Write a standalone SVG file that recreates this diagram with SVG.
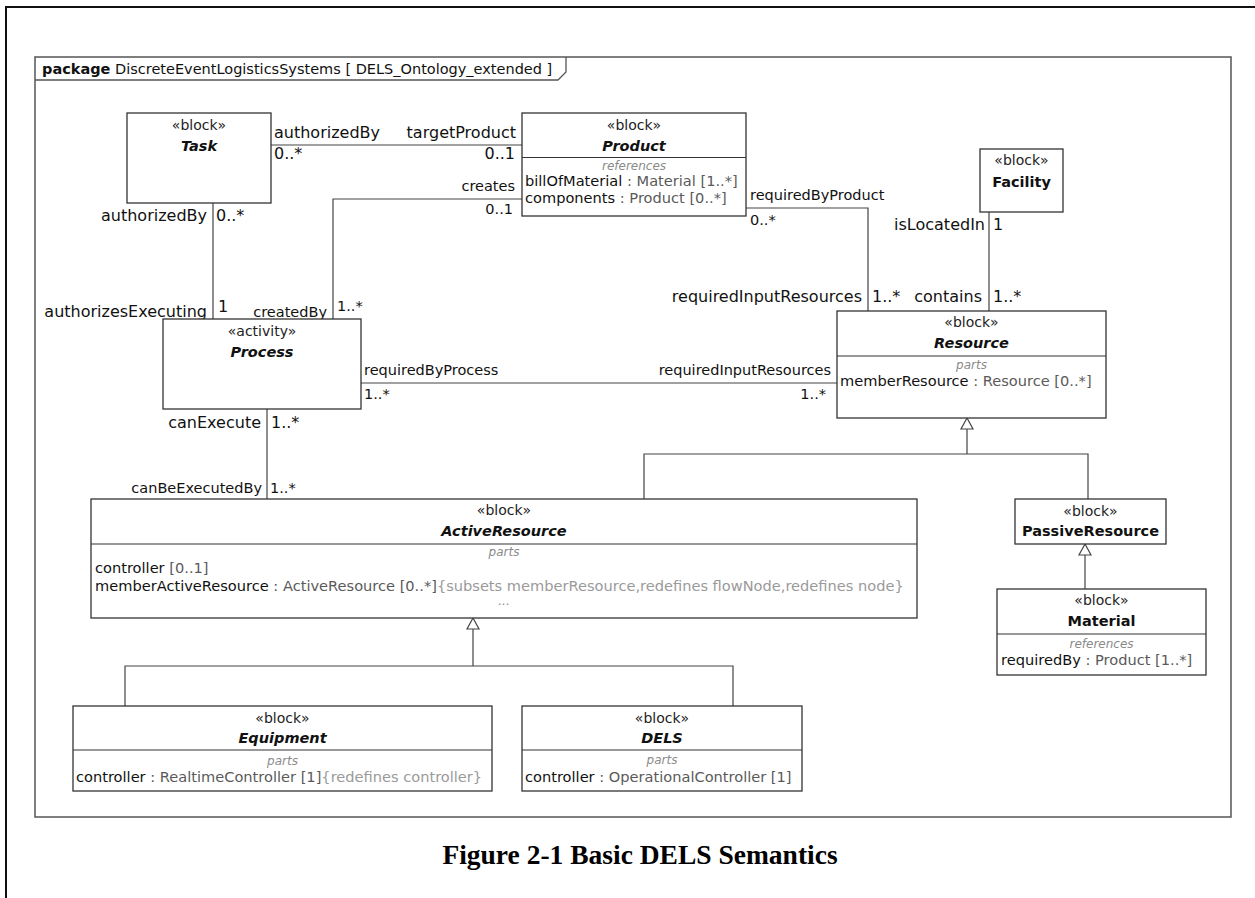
<svg xmlns="http://www.w3.org/2000/svg" width="1255" height="898" viewBox="0 0 1255 898">
<style>
.box{fill:#fff;stroke:#333;stroke-width:1.3}
.dv{stroke:#333;stroke-width:1.2}
.ln{fill:none;stroke:#444;stroke-width:1.2}
.tri{fill:#fff;stroke:#444;stroke-width:1.2}
text{font-family:'DejaVu Sans',Verdana,sans-serif;font-size:14.6px;fill:#111}
.st{font-size:14px;text-anchor:middle;fill:#222}
.nm{font-weight:bold;font-size:14.5px;text-anchor:middle}
.it{font-style:italic}
.hd{font-style:italic;font-size:12px;fill:#8a8a8a;text-anchor:middle}
.g1{fill:#5a5a5a}
.g2{fill:#9a9a9a}
.lb{font-size:16px}
.ls{font-size:14.5px}
.e{text-anchor:end}
.cap{font-family:'Liberation Serif','Times New Roman',serif;font-weight:bold;font-size:27.5px;text-anchor:middle;fill:#000}
</style>
<path d="M6,898 V7 H1255" fill="none" stroke="#111" stroke-width="2"/>
<g id="frame">
<rect x="35" y="57" width="1196" height="760" fill="none" stroke="#555" stroke-width="1.5"/>
<path d="M35,80 H558 L566,72 V57" fill="none" stroke="#555" stroke-width="1.3"/>
<text x="42" y="74" style="font-size:14.5px"><tspan font-weight="bold">package</tspan> DiscreteEventLogisticsSystems [ DELS_Ontology_extended ]</text>
</g>
<g id="connectors">
<path class="ln" d="M271,145 H522"/>
<path class="ln" d="M213,203 V319"/>
<path class="ln" d="M522,199 H333 V319"/>
<path class="ln" d="M361,383 H837"/>
<path class="ln" d="M267,409 V499"/>
<path class="ln" d="M746,208 H868 V311"/>
<path class="ln" d="M989,212 V311"/>
<path class="ln" d="M967,429 V454 M644,499 V454 H1088 V499"/>
<polygon class="tri" points="967,418 961,429 973,429"/>
<path class="ln" d="M1085,555 V589"/>
<polygon class="tri" points="1085,544 1079,555 1091,555"/>
<path class="ln" d="M473,629 V666 M125,706 V666 H733 V706"/>
<polygon class="tri" points="473,618 467,629 479,629"/>
<text class="lb" x="274" y="138">authorizedBy</text>
<text class="lb e" x="516" y="138">targetProduct</text>
<text class="lb" x="274" y="159">0..*</text>
<text class="lb e" x="515" y="159">0..1</text>
<text class="ls e" x="515" y="191">creates</text>
<text class="ls e" x="513" y="214">0..1</text>
<text class="lb e" x="207" y="221">authorizedBy</text>
<text class="lb" x="216" y="221">0..*</text>
<text class="lb e" x="207" y="317">authorizesExecuting</text>
<text class="lb" x="218" y="312">1</text>
<text class="ls e" x="327" y="317">createdBy</text>
<text class="ls" x="337" y="311">1..*</text>
<text class="ls" x="364" y="375">requiredByProcess</text>
<text class="ls" x="364" y="399">1..*</text>
<text class="ls e" x="831" y="375">requiredInputResources</text>
<text class="ls e" x="826" y="399">1..*</text>
<text class="lb e" x="261" y="428">canExecute</text>
<text class="lb" x="271" y="428">1..*</text>
<text class="ls e" x="262" y="493">canBeExecutedBy</text>
<text class="ls" x="270" y="493">1..*</text>
<text class="ls" x="750" y="200">requiredByProduct</text>
<text class="ls" x="750" y="225">0..*</text>
<text class="lb e" x="862" y="302">requiredInputResources</text>
<text class="lb" x="872" y="302">1..*</text>
<text class="lb e" x="985" y="230">isLocatedIn</text>
<text class="lb" x="993" y="230">1</text>
<text class="lb e" x="982" y="302">contains</text>
<text class="lb" x="993" y="302">1..*</text>
</g>
<g id="Task">
<rect class="box" x="127" y="113" width="144" height="90"/>
<text class="st" x="199" y="130">«block»</text>
<text class="nm it" x="199" y="151">Task</text>
</g>
<g id="Product">
<rect class="box" x="522" y="113" width="224" height="103"/>
<line class="dv" x1="522" y1="157.5" x2="746" y2="157.5"/>
<text class="st" x="634" y="130">«block»</text>
<text class="nm it" x="634" y="151">Product</text>
<text class="hd" x="634" y="170">references</text>
<text x="525" y="186">billOfMaterial<tspan class="g1"> : Material [1..*]</tspan></text>
<text x="525" y="202.5">components<tspan class="g1"> : Product [0..*]</tspan></text>
</g>
<g id="Facility">
<rect class="box" x="980" y="149" width="83" height="63"/>
<text class="st" x="1021.5" y="165">«block»</text>
<text class="nm" x="1021.5" y="187">Facility</text>
</g>
<g id="Process">
<rect class="box" x="163" y="319" width="198" height="90"/>
<text class="st" x="262" y="336">«activity»</text>
<text class="nm it" x="262" y="357">Process</text>
</g>
<g id="Resource">
<rect class="box" x="837" y="311" width="269" height="107"/>
<line class="dv" x1="837" y1="356" x2="1106" y2="356"/>
<text class="st" x="971.5" y="327">«block»</text>
<text class="nm it" x="971.5" y="348">Resource</text>
<text class="hd" x="971.5" y="369">parts</text>
<text x="840" y="386">memberResource<tspan class="g1"> : Resource [0..*]</tspan></text>
</g>
<g id="ActiveResource">
<rect class="box" x="91" y="499" width="826" height="119"/>
<line class="dv" x1="91" y1="544" x2="917" y2="544"/>
<text class="st" x="504" y="515">«block»</text>
<text class="nm it" x="504" y="536">ActiveResource</text>
<text class="hd" x="504" y="556">parts</text>
<text x="95" y="573">controller<tspan class="g1"> [0..1]</tspan></text>
<text x="95" y="591">memberActiveResource<tspan class="g1"> : ActiveResource [0..*]</tspan><tspan class="g2">{subsets memberResource,redefines flowNode,redefines node}</tspan></text>
<text class="hd" x="504" y="605">...</text>
</g>
<g id="PassiveResource">
<rect class="box" x="1015" y="499" width="151" height="45"/>
<text class="st" x="1090.5" y="516">«block»</text>
<text class="nm" x="1090.5" y="536">PassiveResource</text>
</g>
<g id="Material">
<rect class="box" x="997" y="589" width="209" height="86"/>
<line class="dv" x1="997" y1="634" x2="1206" y2="634"/>
<text class="st" x="1101.5" y="605">«block»</text>
<text class="nm" x="1101.5" y="626">Material</text>
<text class="hd" x="1101.5" y="648">references</text>
<text x="1001" y="665">requiredBy<tspan class="g1"> : Product [1..*]</tspan></text>
</g>
<g id="Equipment">
<rect class="box" x="73" y="706" width="419" height="85"/>
<line class="dv" x1="73" y1="750" x2="492" y2="750"/>
<text class="st" x="282.5" y="723">«block»</text>
<text class="nm it" x="282.5" y="743">Equipment</text>
<text class="hd" x="282.5" y="765">parts</text>
<text x="76" y="782">controller<tspan class="g1"> : RealtimeController [1]</tspan><tspan class="g2">{redefines controller}</tspan></text>
</g>
<g id="DELS">
<rect class="box" x="522" y="706" width="280" height="85"/>
<line class="dv" x1="522" y1="750" x2="802" y2="750"/>
<text class="st" x="662" y="723">«block»</text>
<text class="nm it" x="662" y="743">DELS</text>
<text class="hd" x="662" y="764">parts</text>
<text x="525" y="782">controller<tspan class="g1"> : OperationalController [1]</tspan></text>
</g>
<text class="cap" x="640" y="864">Figure 2-1 Basic DELS Semantics</text>
</svg>
